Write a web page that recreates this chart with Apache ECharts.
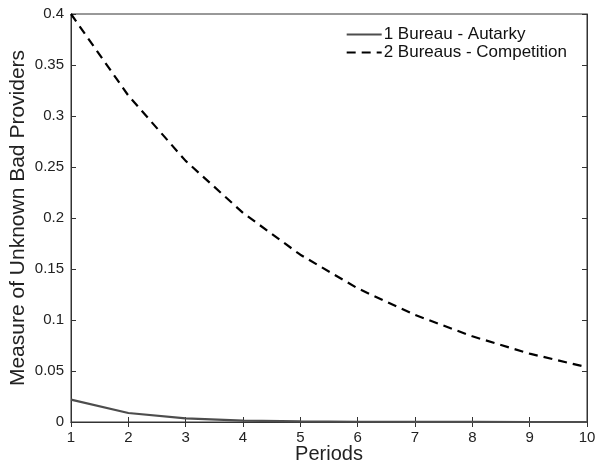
<!DOCTYPE html>
<html>
<head>
<meta charset="utf-8">
<script src="https://cdn.jsdelivr.net/npm/echarts@6/dist/echarts.min.js"></script>
<style>
  html, body { margin: 0; padding: 0; background: #fff; }
  #chart { width: 599px; height: 462px; }
</style>
</head>
<body>
<div id="chart"></div>
<script>
// periods on the x axis
var periods = [1, 2, 3, 4, 5, 6, 7, 8, 9, 10];
// 1 Bureau - Autarky
var autarky = [0.022, 0.0088, 0.0035, 0.0014, 0.0006, 0.00025, 0.0001, 0.00004, 0.00002, 0.00001];
// 2 Bureaus - Competition
var competition = [0.4, 0.32, 0.256, 0.205, 0.164, 0.131, 0.105, 0.084, 0.067, 0.0537];
var yTicks = [0, 0.05, 0.1, 0.15, 0.2, 0.25, 0.3, 0.35, 0.4];

function pairs(xs, ys) {
    var out = [];
    for (var i = 0; i < xs.length; i++) out.push([xs[i], ys[i]]);
    return out;
}

var font = 'Liberation Sans, Arial, Helvetica, sans-serif';
var axisCol = '#333';

var myChart = echarts.init(document.getElementById('chart'));
var option = {
    animation: false,
    backgroundColor: '#fff',
    grid: {
        left: 71,
        top: 14,
        width: 516,
        height: 408,
        outerBoundsMode: 'none',
        containLabel: false,
        show: true,
        borderColor: axisCol,
        borderWidth: 1
    },
    legend: {
        orient: 'vertical',
        right: 27,
        top: 21,
        itemWidth: 35,
        itemHeight: 12,
        itemGap: 1,
        itemStyle: { opacity: 0 },
        textStyle: { fontFamily: font, fontSize: 17, color: '#111', padding: [0, 0, 0, -3] },
        data: ['1 Bureau - Autarky', '2 Bureaus - Competition']
    },
    xAxis: [
        {
            type: 'value',
            min: 1,
            max: 10,
            interval: 1,
            name: 'Periods',
            nameLocation: 'middle',
            nameGap: 22,
            nameMoveOverlap: false,
            nameTextStyle: { fontFamily: font, fontSize: 20, color: '#222' },
            axisLine: { show: true, lineStyle: { color: axisCol, width: 1 } },
            axisTick: { show: true, inside: true, length: 5, lineStyle: { color: axisCol } },
            axisLabel: { fontFamily: font, fontSize: 15, color: '#222', margin: 8 },
            splitLine: { show: false }
        },
        {
            type: 'value',
            position: 'top',
            min: 1,
            max: 10,
            interval: 1,
            axisLine: { show: true, lineStyle: { color: axisCol, width: 1 } },
            axisTick: { show: true, inside: true, length: 5, lineStyle: { color: axisCol } },
            axisLabel: { show: false },
            splitLine: { show: false }
        }
    ],
    yAxis: [
        {
            type: 'value',
            min: 0,
            max: 0.4,
            interval: 0.05,
            name: 'Measure of Unknown Bad Providers',
            nameLocation: 'middle',
            nameGap: 42,
            nameMoveOverlap: false,
            nameTextStyle: { fontFamily: font, fontSize: 21, color: '#222' },
            axisLine: { show: true, lineStyle: { color: axisCol, width: 1 } },
            axisTick: { show: true, inside: true, length: 5, lineStyle: { color: axisCol } },
            axisLabel: {
                fontFamily: font, fontSize: 15, color: '#222', margin: 7,
                formatter: function (v) {
                    for (var i = 0; i < yTicks.length; i++) {
                        if (Math.abs(v - yTicks[i]) < 1e-9) return String(yTicks[i]);
                    }
                    return '';
                }
            },
            splitLine: { show: false }
        },
        {
            type: 'value',
            position: 'right',
            min: 0,
            max: 0.4,
            interval: 0.05,
            axisLine: { show: true, lineStyle: { color: axisCol, width: 1 } },
            axisTick: { show: true, inside: true, length: 5, lineStyle: { color: axisCol } },
            axisLabel: { show: false },
            splitLine: { show: false }
        }
    ],
    series: [
        {
            name: '1 Bureau - Autarky',
            type: 'line',
            data: pairs(periods, autarky),
            showSymbol: false,
            symbol: 'none',
            lineStyle: { color: '#4d4d4d', width: 2.2 },
            itemStyle: { color: '#4d4d4d' }
        },
        {
            name: '2 Bureaus - Competition',
            type: 'line',
            data: pairs(periods, competition),
            showSymbol: false,
            symbol: 'none',
            lineStyle: { color: '#000', width: 2.2, type: [9, 6] },
            itemStyle: { color: '#000' }
        }
    ]
};
myChart.setOption(option);
</script>
</body>
</html>
